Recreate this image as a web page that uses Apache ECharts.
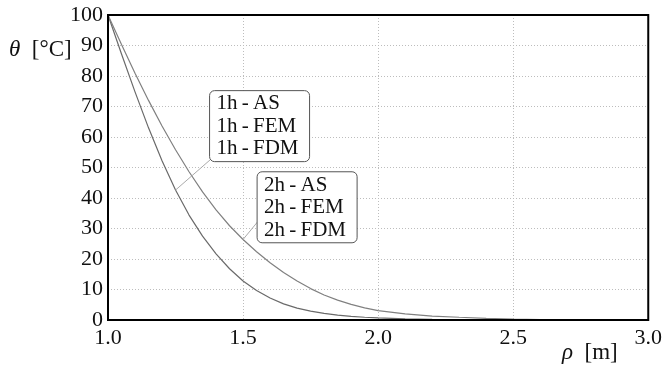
<!DOCTYPE html>
<html>
<head>
<meta charset="utf-8">
<script src="https://cdn.jsdelivr.net/npm/echarts@6/dist/echarts.min.js"></script>
<style>
  html, body { margin: 0; padding: 0; background: #fff; }
  #chart { width: 665px; height: 366px; }
</style>
</head>
<body>
<div id="chart"></div>
<script>
// radius [m]
const rho = [1.00, 1.05, 1.10, 1.15, 1.20, 1.25, 1.30, 1.35, 1.40, 1.45, 1.50,
  1.55, 1.60, 1.65, 1.70, 1.75, 1.80, 1.85, 1.90, 1.95, 2.00,
  2.10, 2.20, 2.30, 2.40, 2.50, 2.60, 2.65]
// temperature after 1h and 2h [°C]
const theta1h = [100, 87.2, 74.8, 63.0, 52.2, 42.6, 34.4, 27.5, 21.7, 16.8, 12.8,
  9.7, 7.2, 5.3, 3.9, 2.9, 2.2, 1.6, 1.2, 0.9, 0.7,
  0.4, 0.2, 0.1, 0.05, 0.02, 0, 0]
const theta2h = [100, 90.3, 80.9, 72.0, 63.6, 55.8, 48.6, 42.0, 36.1, 30.9, 26.4,
  22.4, 18.8, 15.6, 12.8, 10.3, 8.2, 6.5, 5.1, 4.0, 3.1,
  2.0, 1.3, 0.9, 0.55, 0.3, 0.15, 0.1]
const xTicks = [1.0, 1.5, 2.0, 2.5, 3.0]
const yTicks = [0, 10, 20, 30, 40, 50, 60, 70, 80, 90, 100]

const labels1h = ['1h\u2009-\u2009AS', '1h\u2009-\u2009FEM', '1h\u2009-\u2009FDM']
const labels2h = ['2h\u2009-\u2009AS', '2h\u2009-\u2009FEM', '2h\u2009-\u2009FDM']

const font = '"Liberation Serif", "DejaVu Serif", serif'
const chart = echarts.init(document.getElementById('chart'))

const toPts = (ys) => rho.map((r, i) => [r, ys[i]])

const option = {
  animation: false,
  textStyle: { fontFamily: font },
  grid: { left: 108, right: 11, top: 15, bottom: 46 },
  xAxis: {
    type: 'value',
    min: xTicks[0],
    max: xTicks[xTicks.length - 1],
    interval: 0.5,
    axisLine: { show: false },
    axisTick: { show: false },
    axisLabel: {
      fontSize: 22, color: '#111', margin: 7,
      showMinLabel: true, showMaxLabel: true,
      formatter: (v) => v.toFixed(1),
    },
    splitLine: { show: true, lineStyle: { color: '#bdbdbd', type: [1, 2], width: 1 } },
  },
  yAxis: {
    type: 'value',
    min: yTicks[0],
    max: yTicks[yTicks.length - 1],
    interval: 10,
    axisLine: { show: false },
    axisTick: { show: false },
    axisLabel: { fontSize: 22, color: '#111', margin: 5 },
    splitLine: { show: true, lineStyle: { color: '#bdbdbd', type: [1, 2], width: 1 } },
  },
  series: [
    {
      name: '1h', type: 'line', data: toPts(theta1h),
      showSymbol: false, smooth: false,
      lineStyle: { color: '#6a6a6a', width: 1.2 },
    },
    {
      name: '2h', type: 'line', data: toPts(theta2h),
      showSymbol: false, smooth: false,
      lineStyle: { color: '#808080', width: 1.2 },
    },
  ],
}
chart.setOption(option)

const px = (x, y) => chart.convertToPixel({ gridIndex: 0 }, [x, y])

// callout: leader from a point on the curve to the box, box corner in data units
const callout = (lines, anchorIdx, ys, boxCorner, leaderEnd) => {
  const a = px(rho[anchorIdx], ys[anchorIdx])
  const c = px(boxCorner[0], boxCorner[1])
  const e = px(leaderEnd[0], leaderEnd[1])
  return [
    {
      type: 'line', z: 10,
      shape: { x1: a[0], y1: a[1], x2: e[0], y2: e[1] },
      style: { stroke: '#aaa', lineWidth: 1 },
    },
    {
      type: 'rect', z: 11,
      shape: { x: c[0], y: c[1], width: 100, height: 71, r: 5 },
      style: { fill: '#fff', stroke: '#555', lineWidth: 1 },
    },
    {
      type: 'text', z: 12, x: c[0] + 7, y: c[1] + 2,
      style: { text: lines.join('\n'), font: '21px ' + font, fill: '#111', lineHeight: 22.5 },
    },
  ]
}

// frame drawn on top so the edge grid lines do not show through
const tl = px(xTicks[0], yTicks[yTicks.length - 1])
const br = px(xTicks[xTicks.length - 1], yTicks[0])

chart.setOption({
  graphic: [
    {
      type: 'rect', z: 20,
      shape: { x: tl[0], y: tl[1], width: br[0] - tl[0], height: br[1] - tl[1] },
      style: { fill: 'none', stroke: '#000', lineWidth: 2 },
    },
    ...callout(labels1h, 5, theta1h, [1.376, 75.2], [1.378, 52.5]),
    ...callout(labels2h, 10, theta2h, [1.552, 48.6], [1.554, 32.2]),
    {
      type: 'text', left: 9, top: 38,
      style: {
        text: '{i|θ}  [°C]',
        rich: { i: { fontStyle: 'italic', fontSize: 23, fontFamily: font } },
        font: '23px ' + font, fill: '#111',
      },
    },
    {
      type: 'text', left: 562, top: 341,
      style: {
        text: '{i|ρ}  [m]',
        rich: { i: { fontStyle: 'italic', fontSize: 23, fontFamily: font } },
        font: '23px ' + font, fill: '#111',
      },
    },
  ],
})
</script>
</body>
</html>
